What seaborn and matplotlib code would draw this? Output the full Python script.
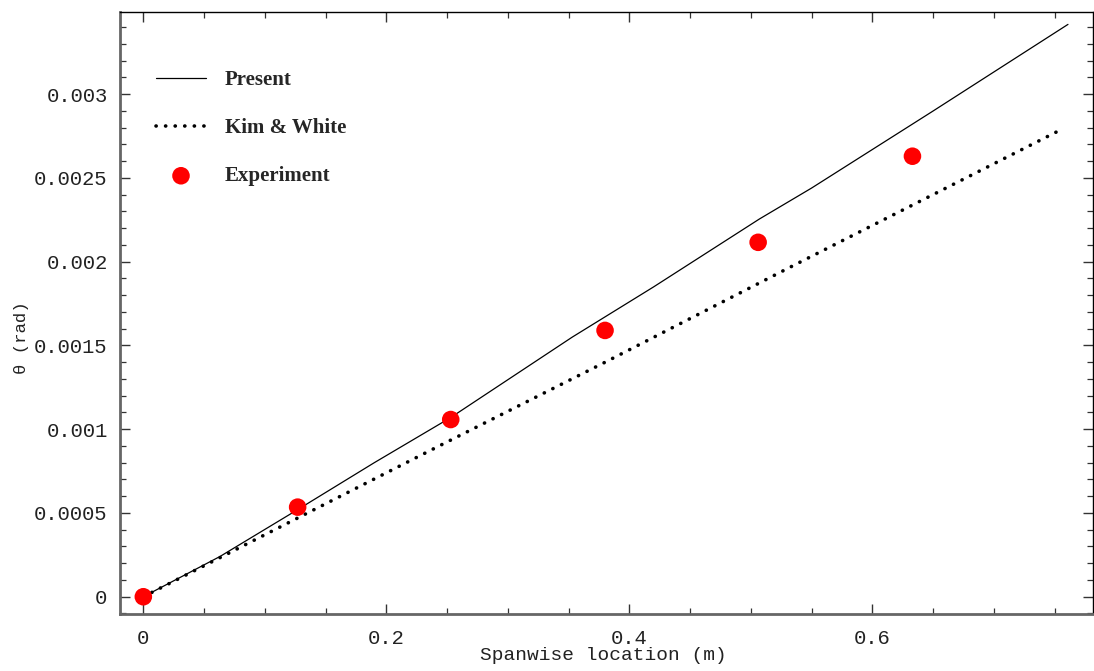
import matplotlib
matplotlib.use("Agg")
import matplotlib.pyplot as plt
import seaborn as sns
import pandas as pd
from matplotlib.ticker import MultipleLocator, FuncFormatter

# ---- data ----
present_x = [0.0, 0.063, 0.127, 0.19, 0.253, 0.353, 0.42, 0.507, 0.55, 0.65, 0.761]
present_y = [0.0, 0.00024, 0.00052, 0.0008, 0.00107, 0.00155, 0.00185, 0.002255, 0.00244, 0.0029, 0.003417]

kim_x = [0.0, 0.127, 0.242, 0.38, 0.533, 0.757]
kim_y = [0.0, 0.00047, 0.000895, 0.0014, 0.00197, 0.002795]

exp_x = [0.0, 0.127, 0.253, 0.38, 0.506, 0.633]
exp_y = [0.0, 0.000535, 0.001058, 0.00159, 0.002116, 0.00263]

xticks = [0, 0.2, 0.4, 0.6]
yticks = [0, 0.0005, 0.001, 0.0015, 0.002, 0.0025, 0.003]

sns.set_style("white")
plt.rcParams['font.family'] = ['Liberation Mono', 'DejaVu Sans Mono']

fig = plt.figure(figsize=(10.94, 6.71), dpi=100)
ax = fig.add_axes([120/1094, 1-614/671, (1093-120)/1094, (614-12)/671])

df_p = pd.DataFrame({"x": present_x, "y": present_y})
df_k = pd.DataFrame({"x": kim_x, "y": kim_y})
df_e = pd.DataFrame({"x": exp_x, "y": exp_y})

sns.lineplot(data=df_p, x="x", y="y", ax=ax, color="black", linewidth=0.9,
             label="Present", sort=False, estimator=None)
sns.lineplot(data=df_k, x="x", y="y", ax=ax, color="black", linewidth=2.6,
             linestyle=(0, (0.05, 2.6)), dash_capstyle="round",
             label="Kim & White", sort=False, estimator=None)
sns.scatterplot(data=df_e, x="x", y="y", ax=ax, color="#ff0000", s=160,
                edgecolor="none", label="Experiment", zorder=5, clip_on=False)
for ln in ax.lines[1:2]:
    ln.set_dash_capstyle("round")

ax.set_xlim(-0.0192, 0.7816)
ax.set_ylim(-0.000103, 0.003491)
ax.set_xticks(xticks)
ax.set_yticks(yticks)
ax.xaxis.set_minor_locator(MultipleLocator(0.05))
ax.yaxis.set_minor_locator(MultipleLocator(0.0001))
ax.xaxis.set_major_formatter(FuncFormatter(lambda v, p: "0" if abs(v) < 1e-12 else ("%g" % v)))
ax.yaxis.set_major_formatter(FuncFormatter(lambda v, p: "0" if abs(v) < 1e-12 else ("%g" % v)))

ax.tick_params(which="both", direction="in", top=True, right=True,
               bottom=True, left=True, colors="#333333", labelcolor="#222222")
ax.tick_params(which="major", length=7, width=1.0, labelsize=14.8, pad=9)
ax.tick_params(which="minor", length=4, width=0.9)
ax.tick_params(axis="x", which="major", pad=11)

for side in ["left", "bottom"]:
    ax.spines[side].set_color("#666666")
    ax.spines[side].set_linewidth(2.0)
for side in ["top", "right"]:
    ax.spines[side].set_color("black")
    ax.spines[side].set_linewidth(1.0)

ax.set_xlabel("Spanwise location (m)", fontsize=14, color="#222222", va="center")
ax.set_ylabel("\u03b8 (rad)", fontsize=12.5, color="#222222", va="center")
ax.xaxis.set_label_coords((603-120)/973, (614-656)/602)
ax.yaxis.set_label_coords((22-120)/973, (614-338)/602)

leg = ax.legend(loc="upper left", bbox_to_anchor=(0.037, 0.903), frameon=False,
                borderaxespad=0, borderpad=0, handlelength=2.4, handletextpad=0.9,
                labelspacing=1.34, markerscale=1.0,
                prop={"family": "Liberation Serif", "weight": "bold", "size": 15})

fig.savefig("out.png", dpi=100, facecolor="white")
